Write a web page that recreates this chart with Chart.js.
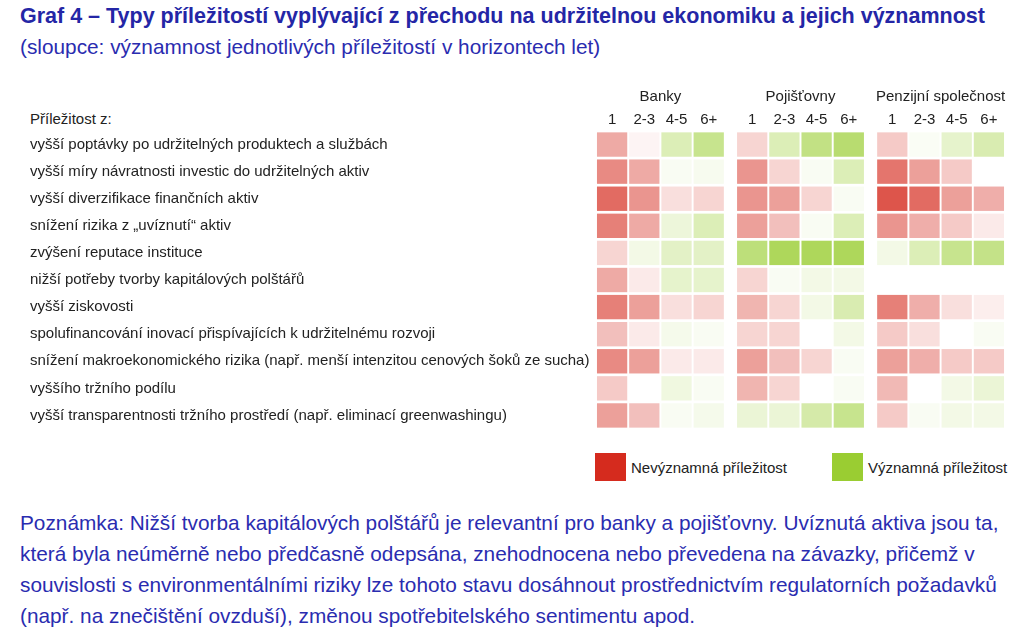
<!DOCTYPE html>
<html>
<head>
<meta charset="utf-8">
<script src="https://cdn.jsdelivr.net/npm/chart.js@4"></script>
<style>
  body { margin: 0; background: #fff; font-family: "Liberation Sans", Arial, sans-serif; }
  #page { position: relative; width: 1032px; height: 637px; overflow: hidden; }
  .title { position: absolute; left: 20px; top: 4px; font-size: 21.5px; font-weight: bold; color: #2426a6; white-space: nowrap; }
  .subtitle { position: absolute; left: 20px; top: 35px; font-size: 20.8px; color: #2a2cb0; white-space: nowrap; }
  .rowhead { position: absolute; left: 30px; top: 110px; font-size: 15px; color: #222; }
  #wrap { position: absolute; left: 0; top: 85px; width: 1032px; height: 353px; }
  .leg { position: absolute; top: 453px; font-size: 15px; color: #222; }
  .leg span.box { position: absolute; top: 0; width: 31px; height: 28px; }
  .leg span.txt { position: absolute; top: 6px; white-space: nowrap; }
  .note { position: absolute; left: 20px; top: 507px; font-size: 20.8px; line-height: 31px; color: #2a2cb0; white-space: nowrap; }
</style>
</head>
<body>
<div id="page">
  <div class="title">Graf 4 – Typy příležitostí vyplývající z přechodu na udržitelnou ekonomiku a jejich významnost</div>
  <div class="subtitle">(sloupce: významnost jednotlivých příležitostí v horizontech let)</div>
  <div class="rowhead">Příležitost z:</div>
  <div id="wrap"><canvas id="heat"></canvas></div>
  <div class="leg" style="left:595px"><span class="box" style="background:#d52b1e;left:0"></span><span class="txt" style="left:36px">Nevýznamná příležitost</span></div>
  <div class="leg" style="left:832px"><span class="box" style="background:#9acd32;left:0"></span><span class="txt" style="left:36px">Významná příležitost</span></div>
  <div class="note">Poznámka: Nižší tvorba kapitálových polštářů je relevantní pro banky a pojišťovny. Uvíznutá aktiva jsou ta,<br>která byla neúměrně nebo předčasně odepsána, znehodnocena nebo převedena na závazky, přičemž v<br>souvislosti s environmentálními riziky lze tohoto stavu dosáhnout prostřednictvím regulatorních požadavků<br>(např. na znečištění ovzduší), změnou spotřebitelského sentimentu apod.</div>
</div>
<script>
const rowLabels = [
    'vyšší poptávky po udržitelných produktech a službách',
    'vyšší míry návratnosti investic do udržitelných aktiv',
    'vyšší diverzifikace finančních aktiv',
    'snížení rizika z „uvíznutí“ aktiv',
    'zvýšení reputace instituce',
    'nižší potřeby tvorby kapitálových polštářů',
    'vyšší ziskovosti',
    'spolufinancování inovací přispívajících k udržitelnému rozvoji',
    'snížení makroekonomického rizika (např. menší intenzitou cenových šoků ze sucha)',
    'vyššího tržního podílu',
    'vyšší transparentnosti tržního prostředí (např. eliminací greenwashingu)'
];
const groups = ['Banky', 'Pojišťovny', 'Penzijní společnost'];
const horizons = ['1', '2-3', '4-5', '6+'];

// -1 = nevýznamná (červená), +1 = významná (zelená), null = bez hodnoty
const banky = [
    [-0.40, -0.05, 0.35, 0.55],
    [-0.55, -0.40, 0.06, 0.08],
    [-0.70, -0.50, -0.15, -0.20],
    [-0.60, -0.40, 0.18, 0.35],
    [-0.20, 0.12, 0.28, 0.28],
    [-0.40, -0.10, 0.25, 0.25],
    [-0.60, -0.45, -0.15, -0.20],
    [-0.30, -0.10, 0.10, 0.06],
    [-0.55, -0.45, -0.10, -0.10],
    [-0.25, null, 0.15, 0.06],
    [-0.45, -0.30, 0.06, 0.10]
];
const pojistovny = [
    [-0.20, 0.35, 0.60, 0.70],
    [-0.50, -0.20, 0.06, 0.35],
    [-0.50, -0.45, -0.20, 0.06],
    [-0.45, -0.30, 0.06, 0.35],
    [0.65, 0.80, 0.80, 0.80],
    [-0.20, 0.06, 0.12, 0.12],
    [-0.35, -0.20, 0.12, 0.38],
    [-0.20, -0.20, null, 0.12],
    [-0.45, -0.30, -0.20, 0.06],
    [-0.35, -0.20, null, 0.06],
    [0.20, 0.20, 0.42, 0.55]
];
const penzijni = [
    [-0.25, 0.05, 0.25, 0.38],
    [-0.65, -0.45, -0.25, null],
    [-0.80, -0.70, -0.45, -0.38],
    [-0.50, -0.38, -0.25, -0.10],
    [0.12, 0.35, 0.55, 0.58],
    [null, null, null, null],
    [-0.60, -0.38, -0.15, -0.08],
    [-0.25, -0.15, null, 0.06],
    [-0.45, -0.38, -0.25, -0.25],
    [-0.33, null, 0.12, 0.20],
    [-0.25, 0.06, 0.12, 0.12]
];

const red = [213, 43, 30];
const green = [154, 205, 50];
function cellColor(v) {
    const c = v < 0 ? red : green;
    const t = Math.min(1, Math.abs(v));
    const mix = c.map(ch => Math.round(255 + (ch - 255) * t));
    return `rgb(${mix[0]}, ${mix[1]}, ${mix[2]})`;
}

const groupGap = 4.35;
const allGroups = [banky, pojistovny, penzijni];
const colCenters = [];
const colNames = [];
const datasets = [];
allGroups.forEach((grid, g) => {
    horizons.forEach((h, c) => {
        const start = g * groupGap + c;
        colCenters.push(start + 0.5);
        colNames.push(h);
        datasets.push({
            data: grid.map(row => row[c] === null ? null : [start + 0.03, start + 0.97]),
            backgroundColor: grid.map(row => row[c] === null ? 'transparent' : cellColor(row[c])),
            borderWidth: 0,
            grouped: false,
            barPercentage: 0.9,
            categoryPercentage: 1
        });
    });
});
const groupCenters = groups.map((n, g) => g * groupGap + 2);

const textFont = { family: '"Liberation Sans", Arial, sans-serif', size: 15 };

new Chart(document.getElementById('heat'), {
    type: 'bar',
    data: { labels: rowLabels, datasets: datasets },
    options: {
        indexAxis: 'y',
        responsive: true,
        maintainAspectRatio: false,
        animation: false,
        layout: { padding: { left: 30, right: 27, top: 0, bottom: 4 } },
        plugins: { legend: { display: false }, tooltip: { enabled: false } },
        scales: {
            y: {
                grid: { display: false },
                border: { display: false },
                ticks: { color: '#222', font: textFont, crossAlign: 'far', padding: 0 },
                afterFit: s => { s.width = 566; }
            },
            x: {
                position: 'top',
                min: 0,
                max: 12.7,
                grid: { display: false },
                border: { display: false },
                afterBuildTicks: s => { s.ticks = colCenters.map(v => ({ value: v })); },
                ticks: {
                    color: '#222', font: textFont, padding: -6, maxRotation: 0, autoSkip: false,
                    callback: (v, i) => colNames[i]
                },
                afterFit: s => { s.height = 22; }
            },
            x2: {
                position: 'top',
                min: 0,
                max: 12.7,
                grid: { display: false },
                border: { display: false },
                afterBuildTicks: s => { s.ticks = groupCenters.map(v => ({ value: v })); },
                ticks: {
                    color: '#222', font: textFont, padding: -5, maxRotation: 0, autoSkip: false,
                    callback: (v, i) => groups[i]
                },
                afterFit: s => { s.height = 24; }
            }
        }
    }
});
</script>
</body>
</html>
